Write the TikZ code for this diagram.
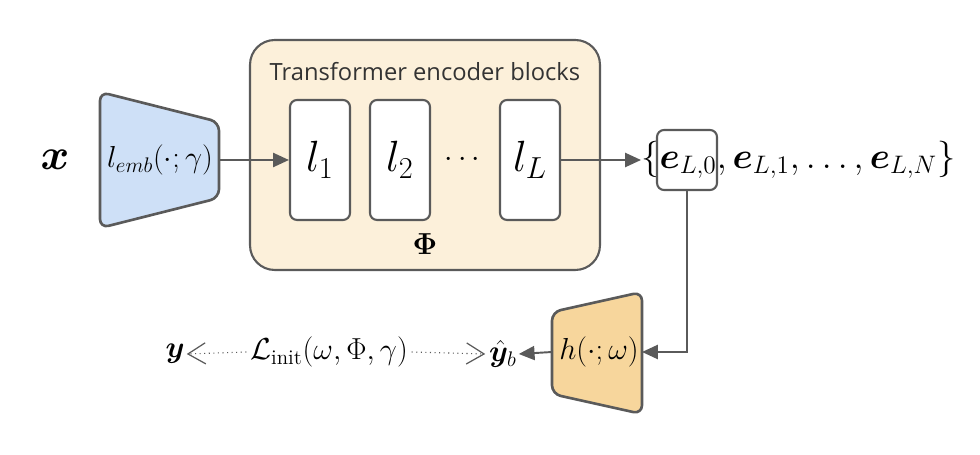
\documentclass[tikz,border=0pt]{standalone}
\usepackage{amsmath,bm}
\usepackage{fontspec}
\newfontfamily\titlefont{Open Sans}
\usetikzlibrary{arrows.meta}
\definecolor{embblue}{HTML}{CEE0F7}
\definecolor{headorange}{HTML}{F7D69C}
\definecolor{phicream}{HTML}{FCF0DA}
\definecolor{edgegray}{HTML}{5A5A5A}
\tikzset{
 layerbox/.style={draw=edgegray,line width=1.2pt,rounded corners=4pt,fill=white,minimum width=1.2cm,minimum height=2.4cm,inner sep=0pt,font=\fontsize{23}{25}\selectfont},
 solidarr/.style={draw=edgegray,line width=1.1pt,-{Triangle[length=9pt,width=8pt]}},
 lossarr/.style={draw=edgegray,line width=0.6pt,dotted,-{Straight Barb[length=10pt,width=12pt,line width=0.7pt]}},
}
\begin{document}
\begin{tikzpicture}[x=0.02cm,y=-0.02cm,font=\fontsize{18.5}{20}\selectfont]
 \useasboundingbox (0,0) rectangle (980,455);
 \node (x) at (55,160) {\fontsize{28}{30}\selectfont$\bm{x}$};
 \draw[edgegray,line width=1.5pt,fill=embblue,rounded corners=5pt] (100,92) -- (219,122) -- (219,198) -- (100,228) -- cycle;
 \coordinate (embout) at (219,160);
 \node (emb) at (160,160) {\fontsize{18}{20}\selectfont$l_{emb}(\cdot;\gamma)$};
 \node[draw=edgegray,line width=1.2pt,fill=phicream,rounded corners=14pt,minimum width=7cm,minimum height=4.6cm] (phi) at (425,155) {};
 \node[text=black!80] (title) at (425,72) {\titlefont\fontsize{13.5}{15}\selectfont Transformer encoder blocks};
 \foreach \x/\lab/\nm in {320/l_1/la,400/l_2/lb,530/l_L/lL} {
  \node[layerbox] (\nm) at (\x,160) {$\lab$};
 }
 \node (dots) at (465,160) {$\cdots$};
 \node (phiname) at (425,244) {\fontsize{19}{21}\selectfont$\bm{\Phi}$};
 \node[anchor=west,inner sep=0pt] (set) at (641,160) {\fontsize{20}{22}\selectfont$\{\bm{e}_{L,0},\bm{e}_{L,1},\ldots,\bm{e}_{L,N}\}$};
 \node[draw=edgegray,line width=1.2pt,rounded corners=4pt,minimum width=1.2cm,minimum height=1.2cm,inner sep=0pt] (pick) at (687,160) {};
 \draw[edgegray,line width=1.5pt,fill=headorange,rounded corners=5pt] (552,312) -- (642,292) -- (642,414) -- (552,394) -- cycle;
 \coordinate (headin) at (642,352);
 \coordinate (headout) at (552,352);
 \node (head) at (599,352) {$h(\cdot;\omega)$};
 \node[anchor=east,inner sep=0pt] (yhat) at (517,354) {$\hat{\bm{y}}_b$};
 \node[inner sep=0pt] (loss) at (329,352) {\fontsize{17}{19}\selectfont$\mathcal{L}_{\text{init}}(\omega,\Phi,\gamma)$};
 \node[anchor=east,inner sep=0pt] (y) at (185,354) {$\bm{y}$};
 \draw[solidarr] (embout) -- (la.west);
 \draw[solidarr] (lL.east) -- (set.west);
 \draw[solidarr] (pick.south) |- (headin);
 \draw[solidarr] (headout) -- ([xshift=1pt]yhat.east);
 \draw[lossarr] ([xshift=-2pt]loss.west) -- ([xshift=1pt]y.east);
 \draw[lossarr] ([xshift=2pt]loss.east) -- ([xshift=-2pt]yhat.west);
\end{tikzpicture}
\end{document}
